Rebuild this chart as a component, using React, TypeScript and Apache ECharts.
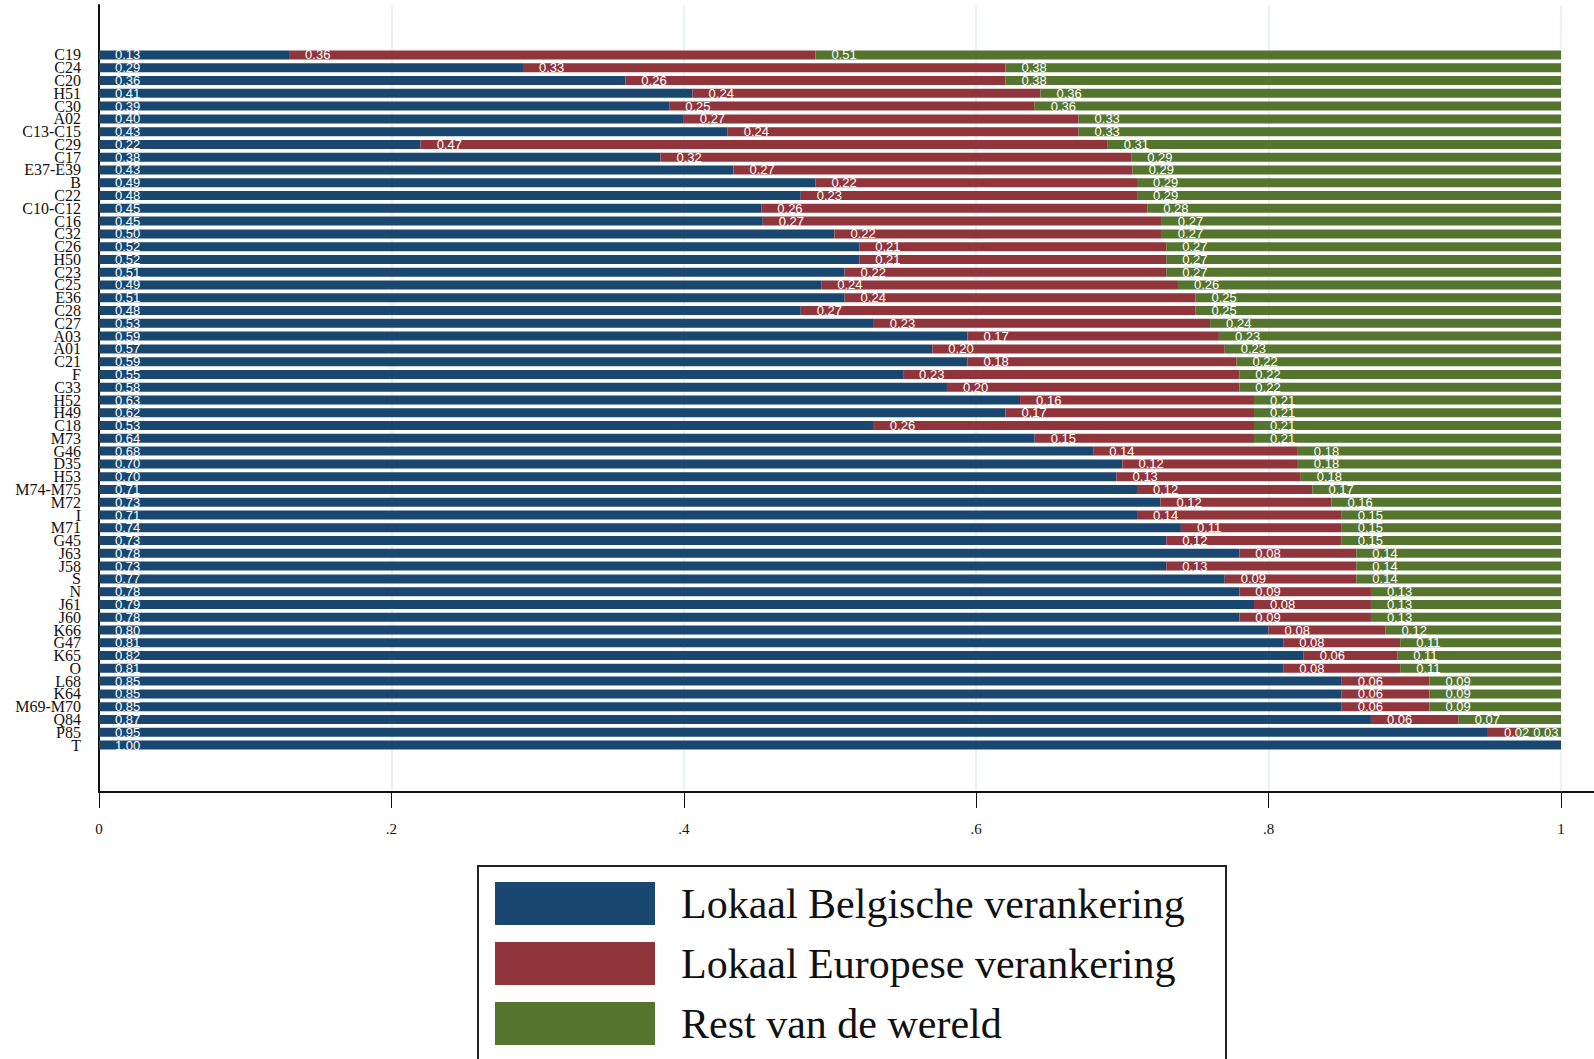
import React, { useEffect, useRef } from "react";
import * as echarts from "echarts";

const categories = [
  "C19", "C24", "C20", "H51", "C30", "A02", "C13-C15", "C29", "C17", "E37-E39",
  "B", "C22", "C10-C12", "C16", "C32", "C26", "H50", "C23", "C25", "E36",
  "C28", "C27", "A03", "A01", "C21", "F", "C33", "H52", "H49", "C18",
  "M73", "G46", "D35", "H53", "M74-M75", "M72", "I", "M71", "G45", "J63",
  "J58", "S", "N", "J61", "J60", "K66", "G47", "K65", "O", "L68",
  "K64", "M69-M70", "Q84", "P85", "T",
];

const belgisch = [
  0.13, 0.29, 0.36, 0.406, 0.39, 0.40, 0.43, 0.22, 0.384, 0.434,
  0.49, 0.48, 0.453, 0.454, 0.503, 0.52, 0.52, 0.51, 0.494, 0.51,
  0.48, 0.53, 0.594, 0.57, 0.594, 0.55, 0.58, 0.63, 0.62, 0.53,
  0.64, 0.68, 0.70, 0.696, 0.71, 0.726, 0.71, 0.74, 0.73, 0.78,
  0.73, 0.77, 0.78, 0.79, 0.78, 0.80, 0.81, 0.824, 0.81, 0.85,
  0.85, 0.85, 0.87, 0.95, 1.0,
];

const europees = [
  0.36, 0.33, 0.26, 0.238, 0.25, 0.27, 0.24, 0.47, 0.322, 0.273,
  0.22, 0.23, 0.264, 0.273, 0.224, 0.21, 0.21, 0.22, 0.244, 0.24,
  0.27, 0.23, 0.172, 0.20, 0.184, 0.23, 0.20, 0.16, 0.17, 0.26,
  0.15, 0.14, 0.12, 0.126, 0.12, 0.117, 0.14, 0.11, 0.12, 0.08,
  0.13, 0.09, 0.09, 0.08, 0.09, 0.08, 0.08, 0.064, 0.08, 0.06,
  0.06, 0.06, 0.06, 0.02, 0,
];

const restWereld = [
  0.51, 0.38, 0.38, 0.356, 0.36, 0.33, 0.33, 0.31, 0.294, 0.293,
  0.29, 0.29, 0.283, 0.273, 0.273, 0.27, 0.27, 0.27, 0.262, 0.25,
  0.25, 0.24, 0.234, 0.23, 0.222, 0.22, 0.22, 0.21, 0.21, 0.21,
  0.21, 0.18, 0.18, 0.178, 0.17, 0.157, 0.15, 0.15, 0.15, 0.14,
  0.14, 0.14, 0.13, 0.13, 0.13, 0.12, 0.11, 0.112, 0.11, 0.09,
  0.09, 0.09, 0.07, 0.03, 0,
];

const seriesNames = [
  "Lokaal Belgische verankering",
  "Lokaal Europese verankering",
  "Rest van de wereld",
];
const colors = ["#1a476f", "#90353b", "#55752f"];
const xTicks = [0, 0.2, 0.4, 0.6, 0.8, 1];

export default function App() {
  const ref = useRef<HTMLDivElement>(null);

  useEffect(() => {
    if (!ref.current) return;
    const chart = echarts.init(ref.current, null, { renderer: "svg" });
    const datasets = [belgisch, europees, restWereld];

    const labelStyle = {
      show: true,
      position: "insideLeft",
      distance: 16,
      color: "#ffffff",
      fontSize: 13,
      fontFamily: "'Liberation Sans Narrow', 'Liberation Sans', sans-serif",
      formatter: (p: any) => (p.value > 0 ? Number(p.value).toFixed(2) : ""),
    };

    const series = datasets.map((d, i) => ({
      name: seriesNames[i],
      type: "bar",
      stack: "total",
      xAxisIndex: 0,
      yAxisIndex: 0,
      barWidth: 9,
      data: d,
      itemStyle: { color: colors[i] },
      label: labelStyle,
      emphasis: { disabled: true },
    }));

    chart.setOption({
      animation: false,
      backgroundColor: "#ffffff",
      color: colors,
      grid: [
        { left: 99, right: 33, top: 48.6, bottom: 307.6 },
        { left: 99, right: 33, top: 5, bottom: 267 },
      ],
      xAxis: [
        {
          gridIndex: 0,
          type: "value",
          min: 0,
          max: 1,
          show: false,
          splitLine: { show: false },
        },
        {
          gridIndex: 1,
          type: "value",
          min: 0,
          max: 1,
          interval: 0.2,
          axisLine: { show: true, lineStyle: { color: "#111", width: 2 } },
          axisTick: { show: true, length: 16, lineStyle: { color: "#111", width: 1 } },
          axisLabel: {
            margin: 29,
            color: "#111",
            fontSize: 15,
            fontFamily: "'Liberation Serif', serif",
            formatter: (v: number) => {
              const r = Math.round(v * 10) / 10;
              const t = xTicks.find((x) => Math.abs(x - r) < 1e-9);
              if (t === undefined) return "";
              return String(t).replace(/^0\./, ".");
            },
          },
          splitLine: { show: true, lineStyle: { color: "#e3eef1", width: 1.5 } },
        },
      ],
      yAxis: [
        {
          gridIndex: 0,
          type: "category",
          inverse: true,
          data: categories,
          axisLine: { show: false },
          axisTick: { show: false },
          axisLabel: {
            margin: 18,
            color: "#111",
            fontSize: 16,
            fontFamily: "'Liberation Serif', serif",
            interval: 0,
          },
        },
        {
          gridIndex: 1,
          type: "value",
          min: 0,
          max: 1,
          axisLine: { show: true, lineStyle: { color: "#111", width: 2 } },
          axisTick: { show: false },
          axisLabel: { show: false },
          splitLine: { show: false },
        },
      ],
      legend: {
        orient: "vertical",
        left: 495,
        top: 882,
        padding: 0,
        itemWidth: 160,
        itemHeight: 43,
        itemGap: 17,
        icon: "rect",
        selectedMode: false,
        data: seriesNames,
        textStyle: {
          fontSize: 42,
          color: "#111",
          fontFamily: "'Liberation Serif', serif",
          padding: [0, 0, 0, 21],
        },
      },
      graphic: [
        {
          type: "line",
          shape: { x1: 1561, y1: 792, x2: 1594, y2: 792 },
          style: { stroke: "#111", lineWidth: 2 },
        },
        {
          type: "rect",
          shape: { x: 478, y: 866, width: 748, height: 260 },
          style: { fill: "none", stroke: "#222", lineWidth: 2 },
        },
      ],
      series,
    });

    return () => chart.dispose();
  }, []);

  return (
    <div
      ref={ref}
      style={{ position: "absolute", left: 0, top: 0, width: 1594, height: 1059 }}
    />
  );
}
